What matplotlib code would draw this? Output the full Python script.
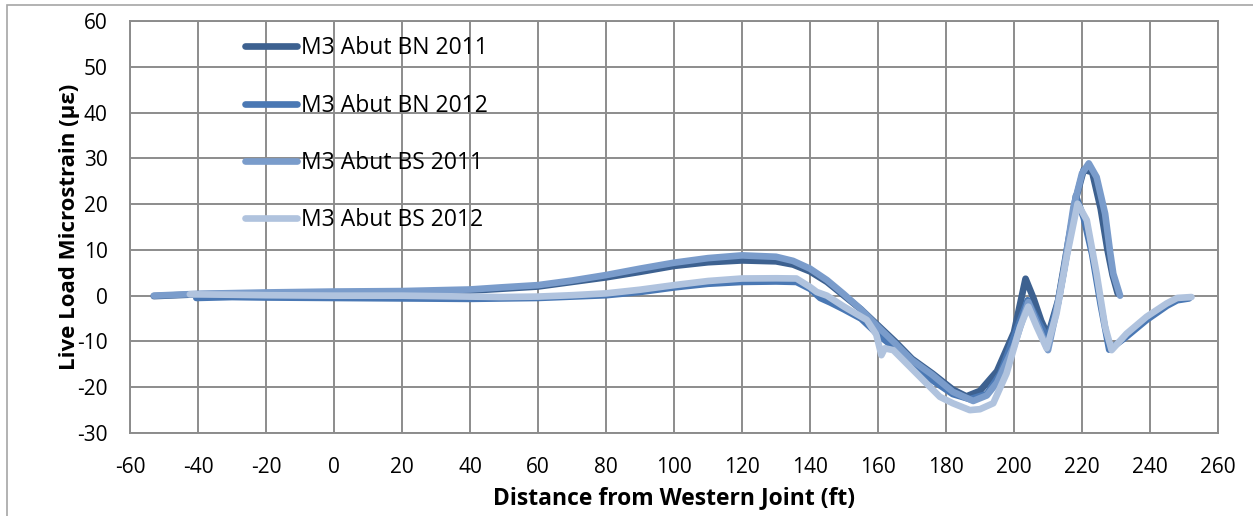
import matplotlib.pyplot as plt
from matplotlib.patches import Rectangle

# gauge M3 abutment readings, distance (ft) vs live load microstrain
bn2011_x = [-53, -40, -20, 0, 20, 40, 49, 60, 70, 80, 90, 100, 110, 120, 130, 135, 140, 145,
            150, 155, 160, 165, 170, 176, 182, 186, 190, 195, 200, 203.4, 205.7, 208, 210,
            213, 216, 218.5, 220.5, 223, 225.5, 227.5, 229, 230.5]
bn2011_y = [-0.1, 0.3, 0.5, 0.7, 0.8, 1.1, 1.5, 2.0, 3.0, 4.0, 5.2, 6.5, 7.3, 7.7, 7.5, 6.8, 5.3, 3.0,
            0.0, -3.0, -6.5, -10.0, -13.8, -17.0, -20.5, -22.0, -20.8, -16.5, -8.0, 3.7, -0.5, -5.5, -8.7,
            -1.0, 12.0, 22.0, 27.5, 27.0, 19.0, 10.0, 4.5, 0.5]

bn2012_x = [-40.5, -30, -20, 0, 20, 40, 60, 70, 80, 90, 100, 110, 120, 130, 136, 140, 143, 146,
            150, 155, 160, 165, 170, 176, 182, 187, 192, 196, 200, 204, 207, 210, 213, 216, 218.2,
            220.5, 223, 225.5, 228, 233, 239, 245, 248, 251.5]
bn2012_y = [-0.5, -0.3, -0.4, -0.5, -0.6, -0.7, -0.5, -0.2, 0.1, 0.8, 1.8, 2.6, 3.0, 3.1, 3.0, 1.5, -0.5, -1.5,
            -3.0, -5.0, -8.5, -11.5, -15.0, -18.5, -21.5, -22.6, -21.5, -17.0, -9.0, -1.0, -5.5, -9.5, -1.5, 11.0, 21.8,
            17.0, 9.0, -2.0, -11.8, -9.0, -5.3, -2.2, -1.0, -0.6]

bs2011_x = [-53, -40, -20, 0, 20, 40, 49, 60, 70, 80, 90, 100, 110, 120, 130, 135, 140, 145,
            150, 155, 160, 165, 170, 176, 182, 188, 192, 195, 200, 204.2, 207, 210, 212, 214.5,
            217.5, 220, 222, 224.3, 226.8, 228.2, 229.2, 231.2]
bs2011_y = [0.0, 0.4, 0.7, 0.9, 1.0, 1.35, 1.8, 2.3, 3.3, 4.5, 5.9, 7.2, 8.2, 8.8, 8.5, 7.6, 5.9, 3.4,
            0.3, -3.0, -6.8, -10.4, -14.1, -17.3, -21.0, -23.0, -21.8, -19.0, -11.0, -1.4, -6.5, -11.9, -5.0, 4.8,
            19.4, 26.7, 28.9, 25.9, 17.9, 9.9, 4.8, 0.0]

bs2012_x = [-42.4, -30, -20, 0, 20, 40, 49, 60, 70, 80, 90, 100, 110, 120, 130, 136, 140, 142,
            145, 150, 156.7, 159.5, 161, 162, 164.5, 170.4, 178.2, 182, 187, 190, 193.9, 197.8,
            201.8, 204.2, 206.7, 209.6, 212.5, 215.5, 218.7, 221.4, 224.3, 226.8, 228.7, 233.1,
            239, 244.9, 248, 252.2]
bs2012_y = [0.3, 0.2, 0.1, 0.0, 0.0, -0.2, -0.3, -0.2, 0.1, 0.5, 1.3, 2.3, 3.2, 3.75, 3.8, 3.75, 1.9, 0.8,
            0.0, -2.4, -5.3, -8.5, -13.0, -11.5, -11.9, -16.3, -22.1, -23.5, -25.0, -24.8, -23.5, -17.0,
            -6.8, -2.4, -6.8, -11.5, -3.9, 8.5, 20.1, 16.5, 4.8, -6.8, -11.9, -8.3,
            -4.6, -1.7, -0.5, -0.3]

labels = ["M3 Abut BN 2011", "M3 Abut BN 2012", "M3 Abut BS 2011", "M3 Abut BS 2012"]
colors = ["#3D6190", "#4A78B4", "#7A9CCB", "#B0C3DE"]

plt.rcParams['font.family'] = ['Open Sans', 'DejaVu Sans']
plt.rcParams['axes.unicode_minus'] = False

fig = plt.figure(figsize=(12.53, 5.16), dpi=100)
ax = fig.add_axes([130 / 1253, 1 - 433 / 516, 1088 / 1253, 412 / 516])

series = [(bn2011_x, bn2011_y), (bn2012_x, bn2012_y), (bs2011_x, bs2011_y), (bs2012_x, bs2012_y)]
for (xs, ys), lab, col in zip(series, labels, colors):
    ax.plot(xs, ys, color=col, lw=4.8, label=lab, solid_capstyle='round', solid_joinstyle='round')

ax.set_xlim(-60, 260)
ax.set_ylim(-30, 60)
ax.set_xticks(range(-60, 261, 20))
ax.set_yticks(range(-30, 61, 10))
ax.grid(True, color="#8C8C8C", lw=1.4)
ax.set_axisbelow(True)
for s in ax.spines.values():
    s.set_color("#8C8C8C")
    s.set_linewidth(1.4)
ax.tick_params(length=0, labelsize=15)
ax.tick_params(axis='x', pad=17)
ax.tick_params(axis='y', pad=16)

ax.set_xlabel("Distance from Western Joint (ft)", fontsize=16.5, fontweight='bold', labelpad=6)
ax.set_ylabel("Live Load Microstrain (\u00b5\u03b5)", fontsize=16, fontweight='bold', labelpad=-2)

leg = ax.legend(loc='upper left', bbox_to_anchor=(0.097, 0.985), frameon=False, fontsize=16.5,
                handlelength=2.3, handletextpad=0.15, labelspacing=1.45, borderaxespad=0)
for h in leg.get_lines():
    h.set_linewidth(4.8)

# outer chart border
fig.patches.append(Rectangle((7 / 1253, -0.05), 1.1, 1 - 5 / 516 + 0.05, transform=fig.transFigure,
                             fill=False, edgecolor="#A6A6A6", lw=1.2))

fig.savefig("out.png", dpi=100)
